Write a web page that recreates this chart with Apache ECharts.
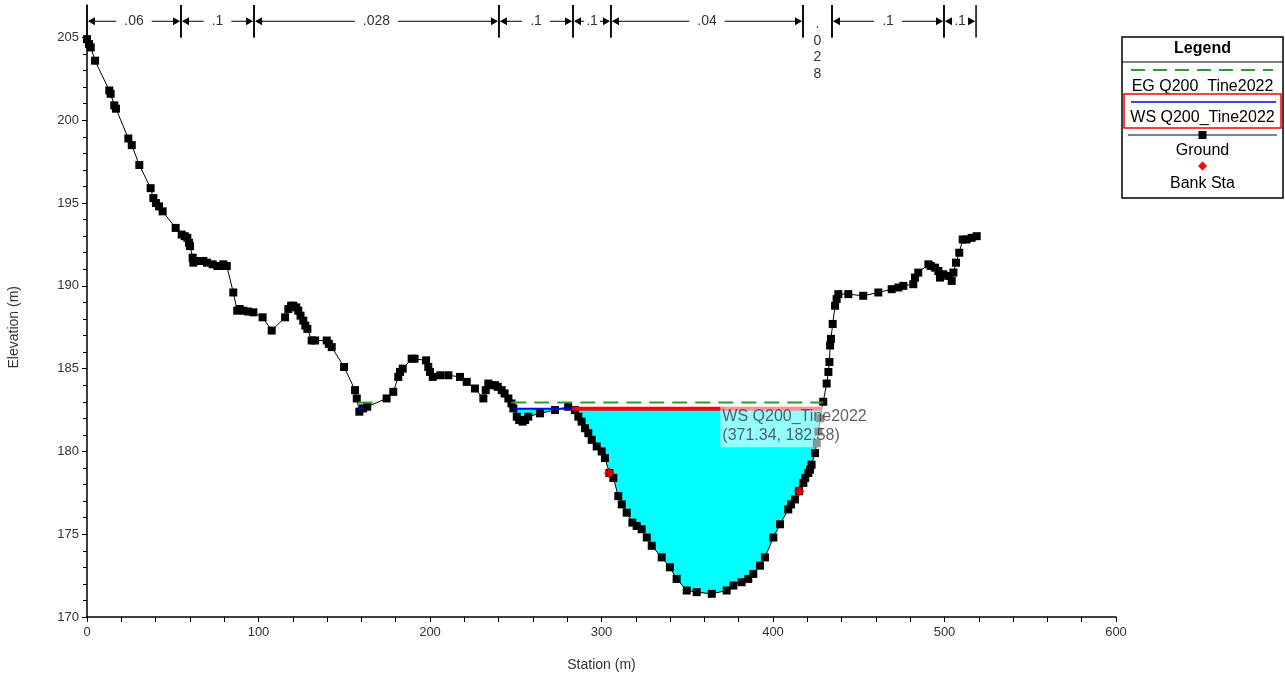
<!DOCTYPE html>
<html>
<head>
<meta charset="utf-8">
<script src="https://cdn.jsdelivr.net/npm/echarts@6.0.0/dist/echarts.min.js"></script>
<style>
  html, body { margin: 0; padding: 0; background: #fff; }
  #chart { width: 1285px; height: 681px; }
</style>
</head>
<body>
<div id="chart"></div>
<script>
// ground profile: [station, elevation]
var groundPts = [
  [0, 204.9], [1.2, 204.6], [2.2, 204.4], [4.7, 203.6], [13, 201.8], [13.8, 201.6], [15.9, 200.9], [16.9, 200.7],
  [24.1, 198.9], [26.1, 198.5], [30.5, 197.3], [37.1, 195.9], [38.7, 195.3], [40.2, 195.0], [42, 194.8], [44.1, 194.5],
  [51.7, 193.5], [55.2, 193.1], [57, 193.0], [58.5, 192.9], [59.5, 192.6], [60.1, 192.4], [61.6, 191.7], [62, 191.4],
  [64, 191.5], [67.8, 191.5], [70, 191.4], [73.3, 191.3], [76, 191.2], [77.6, 191.2], [79.5, 191.3], [81.5, 191.2],
  [85.3, 189.6], [87.6, 188.5], [89, 188.6], [91.1, 188.5], [94, 188.45], [97, 188.4], [102.4, 188.1], [107.7, 187.3],
  [115.5, 188.1], [117.4, 188.6], [119, 188.8], [120.3, 188.8], [122, 188.7], [123.2, 188.5], [124.5, 188.2],
  [126.1, 187.9], [127.3, 187.6], [128.5, 187.4], [131, 186.7], [133, 186.7], [139.8, 186.7], [141, 186.5],
  [142.7, 186.3], [149.9, 185.1], [156.3, 183.7], [157.3, 183.2], [158.8, 182.4], [161, 182.6], [163.4, 182.7],
  [174.7, 183.2], [178.6, 183.6], [181.5, 184.5], [182.5, 184.8], [184.1, 185.0], [189.3, 185.6], [191, 185.6],
  [197.7, 185.5], [199, 185.1], [200, 184.8], [201.6, 184.5], [206, 184.6], [210.7, 184.6], [217.5, 184.5],
  [221.4, 184.2], [226.2, 183.8], [231.1, 183.2], [232.5, 183.7], [234, 184.1], [236, 184.0], [237.9, 184.0],
  [239.5, 183.9], [241.8, 183.7], [243.5, 183.5], [245.7, 183.2], [247.5, 182.9], [248.6, 182.6], [250.6, 182.1],
  [252, 181.9], [254, 181.8], [255.5, 181.9], [257.3, 182.1], [264.1, 182.3], [272.9, 182.5], [280.6, 182.7],
  [284.5, 182.5], [286.5, 182.1], [288.4, 181.8], [290.4, 181.4], [292.3, 181.1], [294.3, 180.7], [297.2, 180.3],
  [300.1, 180.0], [302, 179.6], [304.6, 178.7], [306.9, 178.4], [309.8, 177.3], [311.8, 176.8], [314.7, 176.3],
  [318, 175.7], [320.5, 175.5], [323.4, 175.3], [326.4, 174.8], [329.3, 174.3], [335.1, 173.6], [339.9, 173.0],
  [343.8, 172.3], [349.7, 171.6], [355.5, 171.5], [364.3, 171.4], [373, 171.6], [376.9, 171.9], [381.7, 172.1],
  [385.6, 172.3], [388.5, 172.6], [392.4, 173.1], [395.3, 173.6], [400.2, 174.8], [404.1, 175.6], [408.9, 176.5],
  [410.5, 176.8], [412.8, 177.1], [415.2, 177.6], [417.7, 178.1], [418.8, 178.4], [420.6, 178.7], [421.6, 178.9],
  [422.5, 179.2], [424.5, 179.9], [425.5, 180.5], [426.5, 181.2], [427.5, 182.0], [429.3, 183.0], [431.3, 184.1],
  [432.3, 184.8], [432.9, 185.4], [433.3, 186.4], [433.8, 186.8], [434.8, 187.7], [436.2, 188.8], [437.1, 189.2],
  [438.1, 189.5], [443.9, 189.5], [452.6, 189.4], [461.4, 189.6], [469.2, 189.8], [473.1, 189.9], [476, 190.0],
  [481.8, 190.1], [482.8, 190.5], [484.7, 190.8], [490.6, 191.3], [492, 191.2], [494.5, 191.1], [496.4, 190.9],
  [497.4, 190.5], [499.3, 190.7], [502.2, 190.6], [504.2, 190.3], [505.2, 190.8], [506.7, 191.4], [508.6, 192.0],
  [510.6, 192.8], [512.9, 192.8], [515.8, 192.9], [518.8, 193.0]
]

var bankSta = [[304.6, 178.7], [415.2, 177.6]]

// water surface / energy grade
var wsElev = 182.58
var wsSpans = [[158.4, 160.8], [248.6, 428.5]]
var selSpan = [283.0, 428.5]
var egElev = 182.95
var egSpans = [[157.8, 170.7], [247.4, 429.2]]
var hoverPt = [371.34, 182.58]

// manning's n
var nStations = [0, 54.8, 97.4, 240.2, 283.4, 305.5, 417.5, 434.4, 499.7, 518.4]
var nValues = ['.06', '.1', '.028', '.1', '.1', '.04', '.028', '.1', '.1']

var xTicks = [0, 100, 200, 300, 400, 500, 600]
var yTicks = [170, 175, 180, 185, 190, 195, 200, 205]

var FONT = 'Liberation Sans'

var nData = []
for (var i = 0; i < nValues.length; i++) {
  nData.push([nStations[i], nStations[i + 1]])
}

function spanSeries(spans, elev, base) {
  return spans.map(function (s) {
    return Object.assign({
      type: 'line',
      data: [[s[0], elev], [s[1], elev]],
      symbol: 'none',
      silent: true,
      clip: false
    }, base)
  })
}

var series = []
// cyan fill under water surface
series = series.concat(spanSeries(wsSpans, wsElev, {
  z: 1,
  lineStyle: { width: 0 },
  areaStyle: { color: '#00ffff', opacity: 1, origin: 'start' }
}))
// ground with white fill covering below
series.push({
  name: 'Ground',
  type: 'line',
  z: 3,
  data: groundPts,
  symbol: 'rect',
  symbolSize: 8,
  clip: false,
  itemStyle: { color: '#000' },
  lineStyle: { color: '#000', width: 1 },
  areaStyle: { color: '#fff', opacity: 1, origin: 'start' }
})
series = series.concat(spanSeries(egSpans, egElev, {
  z: 4,
  lineStyle: { color: '#2e9b2e', width: 2, type: [15, 8] }
}))
series = series.concat(spanSeries(wsSpans, wsElev, {
  z: 5,
  lineStyle: { color: '#0000ff', width: 2 }
}))
series = series.concat(spanSeries([selSpan], wsElev, {
  z: 6,
  lineStyle: { color: '#ff0000', width: 4 }
}))
series.push({
  name: 'Bank Sta',
  type: 'scatter',
  z: 7,
  data: bankSta,
  symbol: 'diamond',
  symbolSize: 11,
  itemStyle: { color: '#ff0000' }
})
series.push({
  type: 'scatter',
  z: 8,
  data: [hoverPt],
  symbolSize: 1,
  itemStyle: { color: 'rgba(0,0,0,0)' },
  label: {
    show: true,
    position: [-3, -2],
    formatter: function (p) {
      return 'WS Q200_Tine2022\n(' + p.value[0].toFixed(2) + ', ' + p.value[1].toFixed(2) + ')'
    },
    fontFamily: FONT,
    fontSize: 16,
    lineHeight: 19,
    color: '#3a3a3a',
    backgroundColor: 'rgba(255,255,255,0.72)',
    padding: [1, 4, 2, 2]
  }
})
// manning's n bars on top strip
series.push({
  type: 'custom',
  xAxisIndex: 1,
  yAxisIndex: 1,
  clip: false,
  silent: true,
  data: nData,
  renderItem: function (params, api) {
    var x0 = api.coord([api.value(0), 0])[0]
    var x1 = api.coord([api.value(1), 0])[0]
    var yb = api.coord([0, 0])[1]
    var yt = api.coord([0, 1])[1]
    var ym = api.coord([0, 0.5])[1]
    var txt = nValues[params.dataIndex]
    var w = x1 - x0
    var st = { stroke: '#000', lineWidth: 1.5 }
    var kids = [
      { type: 'line', shape: { x1: x0, y1: yt, x2: x0, y2: yb }, style: st },
      { type: 'line', shape: { x1: x1, y1: yt, x2: x1, y2: yb }, style: st }
    ]
    if (w > 30) {
      var pad = w > 60 ? 8 : 2
      kids.push({ type: 'line', shape: { x1: x0 + 2, y1: ym, x2: x1 - 2, y2: ym }, style: { stroke: '#000', lineWidth: 1 } })
      kids.push({ type: 'polygon', shape: { points: [[x0 + 1, ym], [x0 + 8, ym - 4], [x0 + 8, ym + 4]] }, style: { fill: '#000' } })
      kids.push({ type: 'polygon', shape: { points: [[x1 - 1, ym], [x1 - 8, ym - 4], [x1 - 8, ym + 4]] }, style: { fill: '#000' } })
      kids.push({
        type: 'text',
        style: {
          x: (x0 + x1) / 2, y: ym, text: txt, align: 'center', verticalAlign: 'middle',
          font: '14px ' + FONT, fill: '#333', backgroundColor: '#fff', padding: [0, pad]
        }
      })
    } else {
      kids.push({
        type: 'text',
        style: {
          x: (x0 + x1) / 2, y: 16, text: txt.split('').join('\n'), align: 'center', verticalAlign: 'top',
          font: '14px ' + FONT, fill: '#333', lineHeight: 16.5
        }
      })
    }
    return { type: 'group', children: kids }
  }
})

// legend box
var LX = 1122, LY = 37, LW = 161
var legendFont = '16px ' + FONT
var graphic = [
  { type: 'rect', shape: { x: LX, y: LY, width: LW, height: 161 }, style: { fill: '#fff', stroke: '#000', lineWidth: 1.5 }, z: 100 },
  { type: 'line', shape: { x1: LX, y1: 62, x2: LX + LW, y2: 62 }, style: { stroke: '#000', lineWidth: 1 }, z: 101 },
  { type: 'text', x: LX + LW / 2, y: 49, style: { text: 'Legend', font: 'bold 16px ' + FONT, align: 'center', verticalAlign: 'middle', fill: '#000' }, z: 101 },
  { type: 'line', shape: { x1: 1131, y1: 70, x2: 1273, y2: 70 }, style: { stroke: '#2e9b2e', lineWidth: 2, lineDash: [14, 8] }, z: 101 },
  { type: 'text', x: LX + LW / 2, y: 87, style: { text: 'EG Q200  Tine2022', font: legendFont, align: 'center', verticalAlign: 'middle', fill: '#000' }, z: 101 },
  { type: 'rect', shape: { x: 1124, y: 94, width: 157, height: 34 }, style: { fill: 'none', stroke: '#ff0000', lineWidth: 1.5 }, z: 101 },
  { type: 'line', shape: { x1: 1131, y1: 102, x2: 1276, y2: 102 }, style: { stroke: '#0000ff', lineWidth: 1.5 }, z: 101 },
  { type: 'text', x: LX + LW / 2, y: 118, style: { text: 'WS Q200_Tine2022', font: legendFont, align: 'center', verticalAlign: 'middle', fill: '#000' }, z: 101 },
  { type: 'line', shape: { x1: 1128, y1: 135, x2: 1277, y2: 135 }, style: { stroke: '#000', lineWidth: 1 }, z: 101 },
  { type: 'rect', shape: { x: LX + LW / 2 - 4, y: 131, width: 8, height: 8 }, style: { fill: '#000' }, z: 102 },
  { type: 'text', x: LX + LW / 2, y: 151, style: { text: 'Ground', font: legendFont, align: 'center', verticalAlign: 'middle', fill: '#000' }, z: 101 },
  { type: 'polygon', shape: { points: [[1202.5, 161.5], [1207, 166], [1202.5, 170.5], [1198, 166]] }, style: { fill: '#ff0000' }, z: 101 },
  { type: 'text', x: LX + LW / 2, y: 184, style: { text: 'Bank Sta', font: legendFont, align: 'center', verticalAlign: 'middle', fill: '#000' }, z: 101 }
]

var axisLineStyle = { color: '#000', width: 1.5 }
var labelStyle = { fontFamily: FONT, fontSize: 13, color: '#333' }

var chart = echarts.init(document.getElementById('chart'))
chart.setOption({
  backgroundColor: '#fff',
  animation: false,
  grid: [
    { left: 87, right: 169, top: 37.5, bottom: 64, outerBoundsMode: 'none' },
    { left: 87, right: 169, top: 5, height: 32.5, outerBoundsMode: 'none' }
  ],
  xAxis: [
    {
      type: 'value', gridIndex: 0, min: xTicks[0], max: xTicks[xTicks.length - 1], interval: 100,
      z: 10,
      name: 'Station (m)', nameLocation: 'middle', nameGap: 41,
      nameTextStyle: { fontFamily: FONT, fontSize: 14, color: '#333' },
      axisLine: { show: true, onZero: false, lineStyle: axisLineStyle },
      axisTick: { show: true, length: 5, lineStyle: { color: '#000' } },
      minorTick: { show: true, splitNumber: 5, length: 5, lineStyle: { color: '#000' } },
      splitLine: { show: false },
      axisLabel: Object.assign({ margin: 9 }, labelStyle)
    },
    {
      type: 'value', gridIndex: 1, min: 0, max: 600, show: false
    }
  ],
  yAxis: [
    {
      type: 'value', gridIndex: 0, min: yTicks[0], max: yTicks[yTicks.length - 1], interval: 5,
      z: 10,
      name: 'Elevation (m)', nameLocation: 'middle', nameGap: 66,
      nameTextStyle: { fontFamily: FONT, fontSize: 14, color: '#333' },
      axisLine: { show: true, onZero: false, lineStyle: axisLineStyle },
      axisTick: { show: true, length: 5, lineStyle: { color: '#000' } },
      minorTick: { show: true, splitNumber: 5, length: 4, lineStyle: { color: '#000' } },
      splitLine: { show: false },
      axisLabel: Object.assign({ margin: 8 }, labelStyle)
    },
    {
      type: 'value', gridIndex: 1, min: 0, max: 1, z: 10,
      axisLine: { show: true, onZero: false, lineStyle: axisLineStyle },
      axisTick: { show: false },
      axisLabel: { show: false },
      splitLine: { show: false }
    }
  ],
  graphic: graphic,
  series: series
})
</script>
</body>
</html>
